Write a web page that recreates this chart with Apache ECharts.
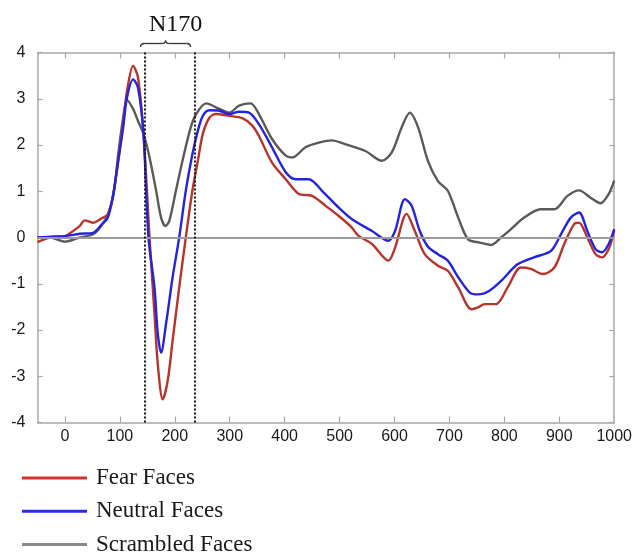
<!DOCTYPE html>
<html>
<head>
<meta charset="utf-8">
<script src="https://cdn.jsdelivr.net/npm/echarts@6/dist/echarts.min.js"></script>
<style>
  html, body { margin: 0; padding: 0; background: #ffffff; }
  #chart { width: 635px; height: 556px; }
</style>
</head>
<body>
<div id="chart"></div>
<script>
// ERP waveforms (µV) against time (ms) for three stimulus conditions.
const fearTimes = [-50, -27, 0, 9, 27, 36, 51, 66, 78, 88, 97, 106, 113, 124, 133, 143, 154, 163, 169, 178, 187, 196, 208, 220, 232, 242, 251, 263, 275, 299, 323, 341, 353, 377, 402, 426, 450, 474, 498, 522, 534, 559, 589, 601, 622, 637, 655, 679, 697, 716, 740, 752, 764, 785, 806, 830, 848, 870, 891, 909, 927, 936, 951, 966, 978, 990, 1000];
const fearValues = [-0.1, 0.0, 0.03, 0.09, 0.25, 0.37, 0.32, 0.41, 0.5, 0.94, 1.66, 2.49, 3.17, 3.71, 3.46, 2.24, 0.0, -1.65, -2.74, -3.5, -3.1, -2.23, -1.08, 0.0, 1.01, 1.66, 2.24, 2.59, 2.67, 2.63, 2.58, 2.42, 2.2, 1.62, 1.26, 0.94, 0.9, 0.69, 0.47, 0.22, 0.04, -0.14, -0.5, -0.22, 0.51, 0.14, -0.36, -0.61, -0.72, -1.08, -1.55, -1.51, -1.44, -1.44, -1.08, -0.65, -0.68, -0.79, -0.65, -0.14, 0.29, 0.32, 0.0, -0.36, -0.43, -0.25, 0.14];

const neutralTimes = [-50, -27, 0, 27, 51, 66, 78, 88, 97, 106, 113, 124, 133, 143, 152, 163, 169, 175, 184, 196, 208, 220, 232, 242, 251, 263, 281, 299, 317, 335, 353, 377, 402, 420, 444, 468, 498, 522, 559, 589, 601, 619, 631, 646, 661, 679, 697, 716, 737, 752, 773, 794, 824, 854, 885, 903, 921, 936, 951, 966, 978, 990, 1000];
const neutralValues = [0.0, 0.02, 0.03, 0.08, 0.1, 0.27, 0.43, 0.94, 1.66, 2.38, 3.03, 3.42, 3.24, 2.24, 0.0, -1.08, -2.08, -2.49, -1.87, -0.86, 0.0, 1.01, 1.8, 2.31, 2.63, 2.75, 2.74, 2.67, 2.72, 2.7, 2.45, 1.95, 1.41, 1.26, 1.26, 1.01, 0.65, 0.4, 0.14, -0.07, 0.14, 0.83, 0.69, 0.14, -0.2, -0.36, -0.5, -0.86, -1.19, -1.23, -1.15, -0.94, -0.58, -0.43, -0.29, 0.07, 0.43, 0.54, 0.14, -0.25, -0.32, -0.14, 0.18];

const scrambledTimes = [-50, -27, 0, 27, 51, 66, 78, 88, 97, 106, 113, 124, 133, 143, 154, 166, 175, 183, 190, 202, 214, 229, 239, 257, 281, 299, 317, 338, 353, 377, 402, 414, 438, 462, 486, 510, 547, 577, 595, 613, 628, 643, 661, 679, 697, 716, 734, 755, 776, 794, 812, 836, 866, 891, 915, 936, 957, 975, 990, 1000];
const scrambledValues = [0.0, 0.0, -0.09, 0.0, 0.07, 0.25, 0.5, 0.9, 1.8, 2.6, 2.97, 2.78, 2.52, 2.24, 1.73, 1.01, 0.43, 0.25, 0.36, 1.01, 1.66, 2.38, 2.67, 2.9, 2.78, 2.7, 2.85, 2.9, 2.67, 2.13, 1.77, 1.73, 1.95, 2.05, 2.1, 2.02, 1.87, 1.66, 1.84, 2.38, 2.7, 2.38, 1.65, 1.22, 1.01, 0.43, -0.04, -0.11, -0.16, 0.0, 0.18, 0.43, 0.61, 0.61, 0.9, 1.02, 0.86, 0.74, 0.94, 1.23];

// N170 measurement window (ms)
const n170Window = [145, 236];
const n170Label = 'N170';

const seriesNames = ['Fear Faces', 'Neutral Faces', 'Scrambled Faces'];
const seriesColors = ['#b8342b', '#2424e0', '#5a5a5a'];
const legendColors = ['#d0342c', '#2a2ae8', '#8a8a8a'];

const xTickValues = [0, 100, 200, 300, 400, 500, 600, 700, 800, 900, 1000];
const xRange = [-50, 1000];
const yRange = [-4, 4];

function pairs(ts, vs) { return ts.map((t, i) => [t, vs[i]]); }

const axisGrey = '#a8a8a8';
const tickFont = { fontFamily: 'Liberation Sans, Arial, sans-serif', fontSize: 16, color: '#1a1a1a' };

const chart = echarts.init(document.getElementById('chart'), null, { renderer: 'canvas' });

function makeX(position, showLabel) {
  return {
    type: 'value', position: position,
    min: xRange[0], max: xRange[1], interval: 50,
    axisLine: { show: true, onZero: false, lineStyle: { color: axisGrey, width: 1.5 } },
    axisTick: { show: true, inside: true, length: 6, lineStyle: { color: axisGrey, width: 1.2 },
      customValues: xTickValues.slice(0, -1) },
    axisLabel: Object.assign({ show: showLabel, margin: 6, customValues: xTickValues,
      formatter: v => String(v) }, tickFont),
    splitLine: { show: false }
  };
}

function makeY(position, showLabel) {
  return {
    type: 'value', position: position,
    min: yRange[0], max: yRange[1], interval: 1,
    axisLine: { show: true, onZero: false, lineStyle: { color: axisGrey, width: 1.5 } },
    axisTick: { show: true, inside: true, length: 5, lineStyle: { color: axisGrey, width: 1.2 } },
    axisLabel: Object.assign({ show: showLabel, margin: 12 }, tickFont),
    splitLine: { show: false }
  };
}

const option = {
  animation: false,
  backgroundColor: '#ffffff',
  grid: { left: 37.5, right: 18, top: 52.5, bottom: 133.5, containLabel: false },
  xAxis: [makeX('bottom', true), makeX('top', false)],
  yAxis: [makeY('left', true), makeY('right', false)],
  legend: {
    orient: 'vertical', left: 22, top: 466.5, padding: 0,
    width: 400, height: 140,
    itemWidth: 65, itemHeight: 3, itemGap: 10.3,
    icon: 'rect',
    data: seriesNames.map((n, i) => ({ name: n, itemStyle: { color: legendColors[i] } })),
    textStyle: { fontFamily: 'Liberation Serif, Times New Roman, serif', fontSize: 23,
      lineHeight: 20, color: '#1a1a1a', padding: [0, 0, 0, 4] }
  },
  series: [
    {
      name: seriesNames[2], type: 'line', data: pairs(scrambledTimes, scrambledValues),
      smooth: 0.3, showSymbol: false, color: seriesColors[2],
      lineStyle: { width: 2.4, color: seriesColors[2] },
      markLine: {
        silent: true, symbol: 'none', label: { show: false }, animation: false,
        lineStyle: { color: '#9a9a9a', width: 2, type: 'solid' },
        data: [{ yAxis: 0 }]
      }
    },
    {
      name: seriesNames[0], type: 'line', data: pairs(fearTimes, fearValues),
      smooth: 0.3, showSymbol: false, color: seriesColors[0],
      lineStyle: { width: 2.4, color: seriesColors[0] }
    },
    {
      name: seriesNames[1], type: 'line', data: pairs(neutralTimes, neutralValues),
      smooth: 0.3, showSymbol: false, color: seriesColors[1],
      lineStyle: { width: 2.4, color: seriesColors[1] },
      markLine: {
        silent: true, symbol: 'none', label: { show: false }, animation: false,
        lineStyle: { color: '#1a1a1a', width: 2, type: [2, 2] },
        data: n170Window.map(t => ({ xAxis: t }))
      }
    }
  ]
};

chart.setOption(option);

// Curly brace and label marking the N170 window above the plot
const xa = chart.convertToPixel({ xAxisIndex: 0 }, n170Window[0]) - 4;
const xb = chart.convertToPixel({ xAxisIndex: 0 }, n170Window[1]) - 4;
const xm = (xa + xb) / 2;
const yEnd = 47, yFlat = 43.5, yTip = 40.5, r = 4;
const braceStyle = { stroke: '#333333', lineWidth: 1.3, fill: null };

chart.setOption({
  graphic: [
    { type: 'bezierCurve', silent: true, shape: { x1: xa, y1: yEnd, x2: xa + r, y2: yFlat, cpx1: xa, cpy1: yFlat }, style: braceStyle },
    { type: 'line', silent: true, shape: { x1: xa + r, y1: yFlat, x2: xm - r, y2: yFlat }, style: braceStyle },
    { type: 'bezierCurve', silent: true, shape: { x1: xm - r, y1: yFlat, x2: xm, y2: yTip, cpx1: xm, cpy1: yFlat }, style: braceStyle },
    { type: 'bezierCurve', silent: true, shape: { x1: xm, y1: yTip, x2: xm + r, y2: yFlat, cpx1: xm, cpy1: yFlat }, style: braceStyle },
    { type: 'line', silent: true, shape: { x1: xm + r, y1: yFlat, x2: xb - r, y2: yFlat }, style: braceStyle },
    { type: 'bezierCurve', silent: true, shape: { x1: xb - r, y1: yFlat, x2: xb, y2: yEnd, cpx1: xb, cpy1: yFlat }, style: braceStyle },
    {
      type: 'text', silent: true,
      x: xm + 10, y: 25,
      style: {
        text: n170Label, align: 'center', verticalAlign: 'middle',
        font: '24px "Liberation Serif", "Times New Roman", serif', fill: '#111111'
      }
    }
  ]
});
</script>
</body>
</html>
